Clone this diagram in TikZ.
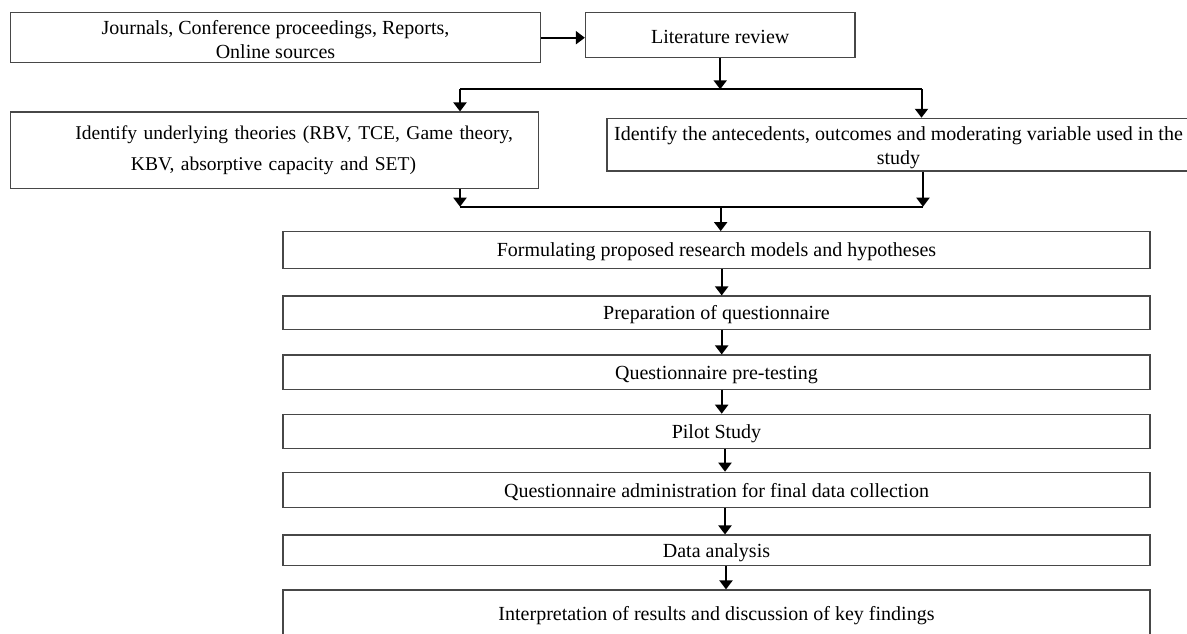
\documentclass[tikz,border=0pt]{standalone}
\usepackage{fontspec}
\setmainfont{Liberation Serif}
\usetikzlibrary{arrows.meta}
% invisible strut that lowers the text block inside its box
\newcommand\upstrut[1]{\rule{0pt}{#1}}
\begin{document}
\begin{tikzpicture}[x=1pt, y=-1pt,
  stepbox/.style={draw=black!72, line width=1.2pt, inner sep=0pt, align=center,
                  font=\fontsize{20}{24}\selectfont},
  link/.style={line width=2pt, black},
  arr/.style={link, -{Triangle[width=13pt,length=9pt]}}]
\clip (0,0) rectangle (1187,633);

% source and review boxes
\node[stepbox, minimum width=530.5pt, minimum height=50pt] (src) at (275.5,37.7)
  {\upstrut{18.5pt}Journals, Conference proceedings, Reports,\\Online sources};
\node[stepbox, minimum width=269.5pt, minimum height=45pt] (lit) at (720.2,35.2)
  {\upstrut{17.5pt}Literature review};

% the two branches
\node[stepbox, align=left, text width=528.5pt, minimum height=76.3pt,
      font=\fontsize{19.5}{31.5}\selectfont] (theo) at (274.5,150.2)
  {\hspace*{65.1pt}Identify underlying theories (RBV, TCE, Game theory,\\
   \hspace*{120.7pt}KBV, absorptive capacity and SET)};
\node[stepbox, minimum width=583pt, minimum height=52.7pt] (ante) at (898.5,144.7)
  {\upstrut{20.5pt}Identify the antecedents, outcomes and moderating variable used in the\\study};

% main sequence
\node[stepbox, minimum width=867pt, minimum height=36.6pt] (form) at (716.5,250)
  {\upstrut{18.3pt}Formulating proposed research models and hypotheses};
\node[stepbox, minimum width=867pt, minimum height=33.3pt] (prep) at (716.5,312.7)
  {\upstrut{18.3pt}Preparation of questionnaire};
\node[stepbox, minimum width=867pt, minimum height=34.3pt] (pret) at (716.5,372.2)
  {\upstrut{18.3pt}Questionnaire pre-testing};
\node[stepbox, minimum width=867pt, minimum height=34pt] (pilot) at (716.5,431.3)
  {\upstrut{18.3pt}Pilot Study};
\node[stepbox, minimum width=867pt, minimum height=35.4pt] (admin) at (716.5,490)
  {\upstrut{18.3pt}Questionnaire administration for final data collection};
\node[stepbox, minimum width=867pt, minimum height=30.7pt] (data) at (716.5,550.4)
  {\upstrut{18.3pt}Data analysis};
\node[stepbox, minimum width=867pt, minimum height=50pt] (interp) at (716.5,615)
  {\upstrut{15pt}Interpretation of results and discussion of key findings};

% junction points and arrow columns
\coordinate (bl) at (460,89.3);
\coordinate (br) at (921.5,89.3);
\coordinate (ml) at (460,206.7);
\coordinate (mr) at (923,206.7);
\coordinate (mc) at (720.7,206.7);
\coordinate (colA) at (721.7,0);
\coordinate (colB) at (725,0);
\coordinate (colC) at (726,0);

% connectors
\draw[arr] (src.east) -- (src.east -| lit.west);
\draw[arr] (lit.south) -- (lit.south |- bl);
\draw[link] (bl) -- (br);
\draw[arr] (bl) -- (bl |- theo.north);
\draw[arr] (br) -- (br |- ante.north);
\draw[arr] (ml |- theo.south) -- (ml);
\draw[arr] (mr |- ante.south) -- (mr);
\draw[link] (ml) -- (mr);
\draw[arr] (mc) -- (mc |- form.north);
\draw[arr] (colA |- form.south) -- (colA |- prep.north);
\draw[arr] (colA |- prep.south) -- (colA |- pret.north);
\draw[arr] (colA |- pret.south) -- (colA |- pilot.north);
\draw[arr] (colB |- pilot.south) -- (colB |- admin.north);
\draw[arr] (colB |- admin.south) -- (colB |- data.north);
\draw[arr] (colC |- data.south) -- (colC |- interp.north);
\end{tikzpicture}
\end{document}
